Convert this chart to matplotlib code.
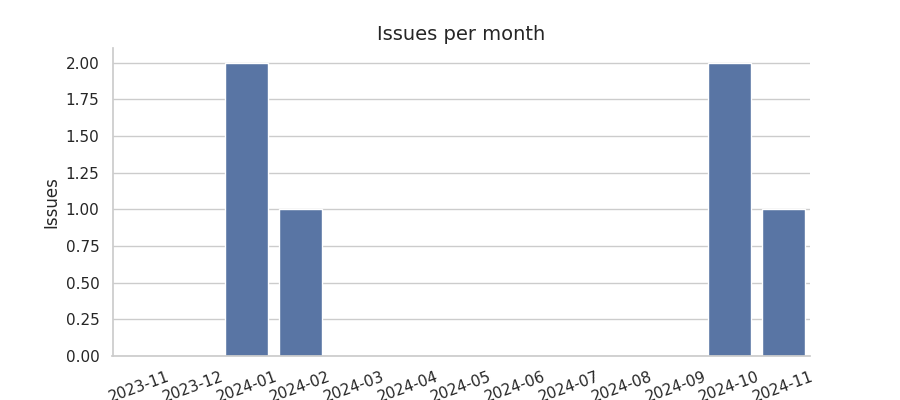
import matplotlib
matplotlib.use("Agg")
import matplotlib.pyplot as plt
import seaborn as sns
import pandas as pd

months = ["2023-11", "2023-12", "2024-01", "2024-02", "2024-03", "2024-04",
          "2024-05", "2024-06", "2024-07", "2024-08", "2024-09", "2024-10",
          "2024-11"]
issues = [0, 0, 2, 1, 0, 0, 0, 0, 0, 0, 0, 2, 1]

sns.set_theme(style="whitegrid")

df = pd.DataFrame({"month": months, "issues": issues})

fig, ax = plt.subplots(figsize=(9, 4))
sns.barplot(data=df, x="month", y="issues", color="#4c72b0", ax=ax)
ax.set_title("Issues per month", fontsize=14)
ax.set_xlabel("")
ax.set_ylabel("Issues")
ax.set_yticks([0, 0.25, 0.5, 0.75, 1.0, 1.25, 1.5, 1.75, 2.0])
ax.set_yticklabels([f"{v:.2f}" for v in ax.get_yticks()])
ax.tick_params(axis="x", rotation=20)
sns.despine()

plt.savefig("out.png", dpi=100)
plt.close()
